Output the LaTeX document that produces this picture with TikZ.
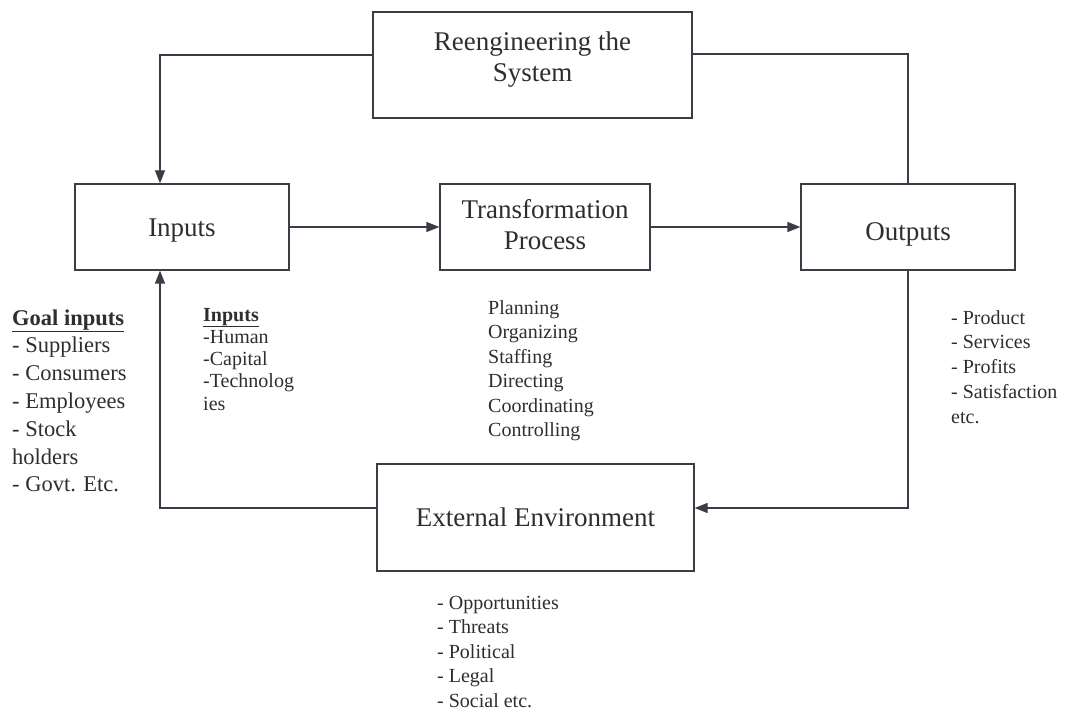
\documentclass[tikz,border=0pt]{standalone}
\usepackage{fontspec}
\setmainfont{Liberation Serif}
\usetikzlibrary{arrows.meta}
\definecolor{ink}{RGB}{62,58,70}
\definecolor{txt}{RGB}{45,45,50}
% left-aligned column whose baseline is that of its first row
\newcommand\stack[1]{\begin{tabular}[t]{@{}l@{}}#1\end{tabular}}
% centred block of lines, moved up or down inside its box (size kept)
\newcommand\cblock[2]{\raisebox{#1}[\height][\depth]{\begin{tabular}{@{}c@{}}#2\end{tabular}}}

\begin{document}
\begin{tikzpicture}[x=1pt,y=-1pt,
  box/.style={draw=ink, line width=1.3pt, rectangle, inner sep=0pt,
              text=txt, font=\fontsize{27}{31}\selectfont, align=center},
  link/.style={draw=ink, line width=1.3pt},
  arr/.style={link, -{Triangle[length=13pt,width=10pt]}},
  list/.style={anchor=base west, inner sep=0pt, text=txt}]
\useasboundingbox (0,0) rectangle (1068,711);

% blocks
\node[box, minimum width=319pt, minimum height=106pt] (re)  at (532.5,65)  {\cblock{5pt}{Reengineering the\\System}};
\node[box, minimum width=214pt, minimum height=86pt]  (inp) at (182,227)   {\cblock{-3pt}{Inputs}};
\node[box, minimum width=210pt, minimum height=86pt]  (tp)  at (545,227)   {\cblock{-1pt}{Transformation\\Process}};
\node[box, minimum width=214pt, minimum height=86pt]  (out) at (908,227)   {\cblock{-7pt}{Outputs}};
\node[box, minimum width=317pt, minimum height=107pt] (ext) at (535.5,517.5) {External Environment};

% flows
\draw[arr]  ([yshift=10pt]re.west) -| ([xshift=-22pt]inp.north);
\draw[link] ([yshift=11pt]re.east) -| (out.north);
\draw[arr]  (inp.east) -- (tp.west);
\draw[arr]  (tp.east) -- (out.west);
\draw[arr]  (out.south) |- ([yshift=9.5pt]ext.east);
\draw[arr]  ([yshift=9.5pt]ext.west) -| ([xshift=-22pt]inp.south);

% annotations
\node[list, font=\fontsize{22.5}{27.8}\selectfont] (goal) at (12,325)
  {\stack{\textbf{\underline{Goal inputs}}\\- Suppliers\\- Consumers\\- Employees\\- Stock\\holders\\- Govt. Etc.}};
\node[list, font=\fontsize{20}{22.3}\selectfont] (res) at (203,321)
  {\stack{\textbf{\underline{Inputs}}\\-Human\\-Capital\\-Technolog\\ies}};
\node[list, font=\fontsize{20}{24.6}\selectfont] (mgmt) at (488,314)
  {\stack{Planning\\Organizing\\Staffing\\Directing\\Coordinating\\Controlling}};
\node[list, font=\fontsize{20}{24.75}\selectfont] (res2) at (951,324)
  {\stack{- Product\\- Services\\- Profits\\- Satisfaction\\etc.}};
\node[list, font=\fontsize{20}{24.5}\selectfont] (env) at (437,609)
  {\stack{- Opportunities\\- Threats\\- Political\\- Legal\\- Social etc.}};
\end{tikzpicture}
\end{document}
